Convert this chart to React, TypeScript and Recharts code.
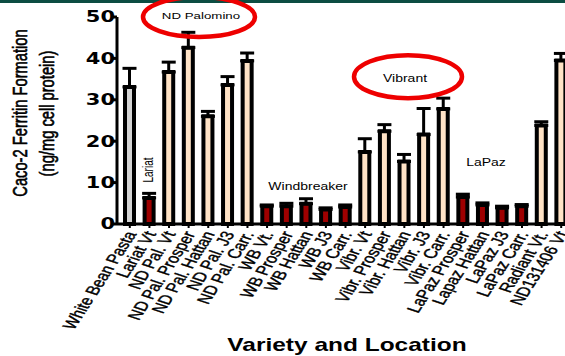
import React from 'react';
import { BarChart, Bar, XAxis, YAxis, ErrorBar, Cell } from 'recharts';

const categories = [
  'White Bean Pasta', 'Lariat Vt', 'ND Pal. Vt', 'ND Pal. Prosper', 'ND Pal. Hattan', 'ND Pal. J3', 'ND Pal. Carr.',
  'WB Vt.', 'WB Prosper', 'WB Hattan', 'WB J3', 'WB Carr.',
  'Vibr. Vt', 'Vibr. Prosper', 'Vibr. Hattan', 'Vibr. J3', 'Vibr. Carr.',
  'LaPaz Prosper', 'Lapaz Hattan', 'LaPaz J3', 'LaPaz Carr.', 'Radiant Vt.', 'ND131406 Vt',
];
const ferritin = [33.1, 6.3, 36.7, 42.6, 26.0, 33.6, 39.4, 4.3, 4.3, 4.9, 3.5, 4.1, 17.4, 22.4, 15.1, 21.6, 27.8, 6.5, 4.6, 3.9, 4.3, 23.8, 39.5];
const sem = [4.5, 1.1, 2.4, 3.7, 1.2, 2.0, 1.9, 0.3, 0.7, 1.2, 0.4, 0.5, 3.2, 1.6, 1.7, 6.3, 2.6, 0.7, 0.5, 0.4, 0.4, 0.9, 1.7];
const varietyGroup = [
  'control', 'lariat', 'palomino', 'palomino', 'palomino', 'palomino', 'palomino',
  'windbreaker', 'windbreaker', 'windbreaker', 'windbreaker', 'windbreaker',
  'vibrant', 'vibrant', 'vibrant', 'vibrant', 'vibrant',
  'lapaz', 'lapaz', 'lapaz', 'lapaz', 'radiant', 'nd131406',
];
const yTicks = [0, 10, 20, 30, 40, 50];

const groupColors: Record<string, string> = {
  control: '#d4d4d4',
  lariat: '#9e0000',
  windbreaker: '#9e0000',
  lapaz: '#9e0000',
  palomino: '#ffe3c6',
  vibrant: '#ffe3c6',
  radiant: '#ffe3c6',
  nd131406: '#ffe3c6',
};

const data = categories.map((name, i) => ({
  name,
  value: ferritin[i],
  err: [0, sem[i]],
  group: varietyGroup[i],
}));

const SX = 1.4;
const FONT = 'Arial, "Liberation Sans", sans-serif';

function StretchText(props: any) {
  const { x, y, rotate = 0, children, ...rest } = props;
  return (
    <text transform={`translate(${x},${y}) scale(${SX},1) rotate(${rotate})`} x={0} y={0} fill="#000" {...rest}>
      {children}
    </text>
  );
}

const XTick = (props: any) => {
  const { x, y, payload } = props;
  return (
    <StretchText x={x + 7} y={y + 4} rotate={-65} textAnchor="end" fontSize={13.3} fontFamily={FONT} stroke="#000" strokeWidth={0.35}>
      {payload.value}
    </StretchText>
  );
};

const YTick = (props: any) => {
  const { y, payload } = props;
  return (
    <StretchText x={115} y={y} dy={5.4} textAnchor="end" fontSize={15} fontWeight="bold" fontFamily='"DejaVu Sans", sans-serif'>
      {payload.value}
    </StretchText>
  );
};

export default function App() {
  return (
    <div style={{ position: 'absolute', left: 0, top: 0, width: 565, height: 356, overflow: 'hidden', background: '#fff' }}>
      <BarChart width={580} height={356} data={data} margin={{ top: 17, right: 9, bottom: 0, left: 0 }} barSize={9}>
        <XAxis
          dataKey="name"
          interval={0}
          height={132}
          padding={{ left: 3, right: 0 }}
          axisLine={{ stroke: '#000', strokeWidth: 3 }}
          tickLine={{ stroke: '#000', strokeWidth: 2 }}
          tickSize={4}
          tick={<XTick />}
        />
        <YAxis
          domain={[0, 50]}
          ticks={yTicks}
          interval={0}
          width={117}
          axisLine={{ stroke: '#000', strokeWidth: 3 }}
          tickLine={{ stroke: '#000', strokeWidth: 3 }}
          tickSize={4}
          tick={<YTick />}
        />
        <Bar dataKey="value" stroke="#000" strokeWidth={4} isAnimationActive={false}>
          {data.map((d, i) => (
            <Cell key={i} fill={groupColors[d.group]} />
          ))}
          <ErrorBar dataKey="err" width={7} strokeWidth={3} stroke="#000" direction="y" isAnimationActive={false} />
        </Bar>
      </BarChart>
      <svg width={565} height={356} style={{ position: 'absolute', left: 0, top: 0, pointerEvents: 'none' }}>
        <rect x={0} y={0} width={565} height={3} fill="#0c4d42" />
        <ellipse cx={199} cy={17} rx={56} ry={20} fill="none" stroke="#ee0000" strokeWidth={4.5} />
        <ellipse cx={408} cy={76.7} rx={54} ry={21.5} fill="none" stroke="#ee0000" strokeWidth={4.5} />
        <StretchText x={201} y={16} textAnchor="middle" dominantBaseline="central" fontSize={9.5} fontFamily={FONT}>ND Palomino</StretchText>
        <StretchText x={405} y={79} textAnchor="middle" dominantBaseline="central" fontSize={10} fontFamily={FONT}>Vibrant</StretchText>
        <StretchText x={148.5} y={170} rotate={-90} textAnchor="middle" dominantBaseline="central" fontSize={10} fontFamily={FONT}>Lariat</StretchText>
        <StretchText x={308} y={187} textAnchor="middle" dominantBaseline="central" fontSize={10} fontFamily={FONT}>Windbreaker</StretchText>
        <StretchText x={486} y={162.7} textAnchor="middle" dominantBaseline="central" fontSize={10} fontFamily={FONT}>LaPaz</StretchText>
        <StretchText x={20} y={113} rotate={-90} textAnchor="middle" dominantBaseline="central" fontSize={14.7} fontFamily={FONT} stroke="#000" strokeWidth={0.45}>Caco-2 Ferritin Formation</StretchText>
        <StretchText x={47} y={113.5} rotate={-90} textAnchor="middle" dominantBaseline="central" fontSize={14.7} fontFamily={FONT} stroke="#000" strokeWidth={0.45}>(ng/mg cell protein)</StretchText>
        <StretchText x={347} y={351} textAnchor="middle" fontSize={17.5} fontWeight="bold" fontFamily={FONT}>Variety and Location</StretchText>
      </svg>
    </div>
  );
}
